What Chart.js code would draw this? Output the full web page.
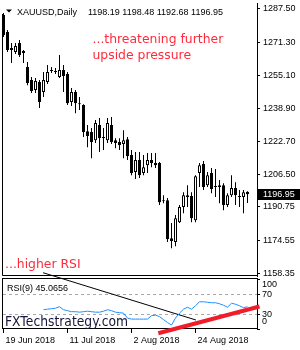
<!DOCTYPE html>
<html>
<head>
<meta charset="utf-8">
<script src="https://cdn.jsdelivr.net/npm/chart.js@4.4.1/dist/chart.umd.min.js"></script>
<style>
  html, body { margin: 0; padding: 0; background: #fff; }
  #wrap { position: relative; width: 300px; height: 350px; }
  #wrap canvas { position: absolute; left: 0; top: 0; }
</style>
</head>
<body>
<div id="wrap">
  <canvas id="price_graph" width="300" height="350"></canvas>
  <canvas id="rsi_graph" width="300" height="350"></canvas>
</div>
<script>
// XAUUSD daily, 19 Jun - 12 Sep 2018
const dates = [
  '19 Jun 2018', '20 Jun 2018', '21 Jun 2018', '22 Jun 2018', '25 Jun 2018', '26 Jun 2018', '27 Jun 2018',
  '28 Jun 2018', '29 Jun 2018', '2 Jul 2018', '3 Jul 2018', '4 Jul 2018', '5 Jul 2018', '6 Jul 2018',
  '9 Jul 2018', '10 Jul 2018', '11 Jul 2018', '12 Jul 2018', '13 Jul 2018', '16 Jul 2018', '17 Jul 2018',
  '18 Jul 2018', '19 Jul 2018', '20 Jul 2018', '23 Jul 2018', '24 Jul 2018', '25 Jul 2018', '26 Jul 2018',
  '27 Jul 2018', '30 Jul 2018', '31 Jul 2018', '1 Aug 2018', '2 Aug 2018', '3 Aug 2018', '6 Aug 2018',
  '7 Aug 2018', '8 Aug 2018', '9 Aug 2018', '10 Aug 2018', '13 Aug 2018', '14 Aug 2018', '15 Aug 2018',
  '16 Aug 2018', '17 Aug 2018', '20 Aug 2018', '21 Aug 2018', '22 Aug 2018', '23 Aug 2018', '24 Aug 2018',
  '27 Aug 2018', '28 Aug 2018', '29 Aug 2018', '30 Aug 2018', '31 Aug 2018', '3 Sep 2018', '4 Sep 2018',
  '5 Sep 2018', '6 Sep 2018', '7 Sep 2018', '10 Sep 2018', '11 Sep 2018', '12 Sep 2018'
];

const open = [
  1284.6, 1276.3, 1268.4, 1266.5, 1270.9, 1267.0, 1259.1, 1252.8, 1247.9, 1251.8,
  1246.9, 1251.8, 1257.7, 1257.2, 1254.3, 1257.7, 1255.7, 1242.0, 1246.9, 1241.5,
  1240.6, 1227.8, 1227.4, 1223.4, 1230.8, 1224.9, 1223.4, 1230.8, 1223.4, 1222.5,
  1221.5, 1223.9, 1216.1, 1207.8, 1213.7, 1207.3, 1211.2, 1213.7, 1212.2, 1212.2,
  1194.1, 1194.1, 1175.5, 1173.6, 1183.3, 1190.7, 1196.5, 1196.1, 1184.3, 1207.3,
  1211.7, 1201.4, 1207.3, 1201.0, 1200.5, 1201.4, 1191.7, 1196.5, 1200.0, 1196.1,
  1195.6, 1198.19
];
const high = [
  1285.5, 1277.2, 1270.9, 1270.9, 1272.3, 1267.5, 1261.6, 1254.3, 1253.8, 1252.8,
  1256.7, 1260.1, 1259.1, 1258.7, 1265.0, 1260.1, 1256.7, 1248.9, 1247.9, 1244.5,
  1241.0, 1230.8, 1229.3, 1233.2, 1234.2, 1229.3, 1234.2, 1234.7, 1224.4, 1224.4,
  1228.3, 1224.9, 1218.6, 1217.6, 1217.6, 1216.1, 1217.1, 1217.1, 1217.1, 1212.7,
  1196.5, 1195.1, 1182.9, 1186.8, 1191.7, 1198.0, 1201.4, 1198.0, 1206.3, 1212.2,
  1213.2, 1207.8, 1209.8, 1209.3, 1203.9, 1202.4, 1197.5, 1206.3, 1202.9, 1199.0,
  1199.0, 1198.48
];
const low = [
  1273.8, 1266.5, 1261.1, 1265.5, 1264.0, 1261.1, 1250.3, 1246.4, 1246.4, 1239.1,
  1244.5, 1250.8, 1256.2, 1255.7, 1253.8, 1246.9, 1240.6, 1240.1, 1236.6, 1238.1,
  1224.9, 1220.0, 1214.6, 1222.0, 1217.6, 1218.6, 1222.0, 1221.5, 1219.5, 1218.6,
  1214.6, 1213.7, 1206.3, 1204.4, 1204.9, 1206.3, 1207.3, 1210.2, 1209.8, 1191.7,
  1192.6, 1173.6, 1170.6, 1171.6, 1182.9, 1187.7, 1190.7, 1183.3, 1183.3, 1200.5,
  1199.0, 1200.5, 1197.5, 1195.6, 1192.6, 1189.2, 1190.7, 1195.6, 1191.7, 1190.7,
  1187.7, 1192.68
];
const close = [
  1274.8, 1267.5, 1267.5, 1269.4, 1265.0, 1266.0, 1251.3, 1247.4, 1252.3, 1242.0,
  1252.8, 1256.7, 1257.2, 1256.7, 1257.7, 1254.7, 1241.5, 1246.9, 1241.5, 1241.0,
  1227.4, 1225.4, 1222.5, 1231.8, 1224.4, 1224.4, 1231.8, 1222.5, 1222.0, 1221.0,
  1223.4, 1215.6, 1207.3, 1213.7, 1206.3, 1210.2, 1213.7, 1212.2, 1211.2, 1193.1,
  1193.6, 1175.0, 1174.1, 1185.3, 1190.7, 1196.5, 1195.6, 1185.3, 1205.8, 1211.2,
  1200.5, 1206.3, 1199.5, 1200.5, 1201.4, 1191.7, 1196.5, 1200.0, 1196.5, 1195.6,
  1198.0, 1196.95
];

// RSI(9); the first bars are not visible in the picture
const rsi = [
  null, null, null, null, null, null, null, null, null, null,
  39, 40, 41, 42, 45, 39, 37, 35, 35, 34,
  35, 36, 35, 34, 34, 36, 39, 37, 34, 33,
  32, 22, 20, 20, 20, 20, 20, 27, 28, 25,
  19, 13, 8, 22, 32, 40, 44, 40, 47, 55,
  55, 54, 53, 53, 51, 48, 44, 52, 50, 47,
  43, 45.0656
];

// trend lines drawn on the RSI window: [bar, rsi value]
const rsiResistance = [[9.9, 113.7], [48.1, 18.2]];
const rsiSupport = [[38.7, -8.7], [64, 45.5]];

const priceTicks = [1287.50, 1271.30, 1255.10, 1238.90, 1222.70, 1206.50, 1190.75, 1174.55, 1158.35];
const rsiTicks = [100, 70, 30, 0];
const dateTicks = [0, 16, 32, 48];

const symbol = 'XAUUSD,Daily';
const rsiPeriod = 9;
const notes = ['...threatening further', 'upside pressure', '...higher RSI'];
const watermark = 'FXTechstrategy.com';

const last = close.length - 1;
const xMin = -0.125, xMax = 63.375;
const axisFont = {family: "'Liberation Sans', Arial, sans-serif", size: 9};

Chart.defaults.font.family = axisFont.family;
Chart.defaults.font.size = 9;
Chart.defaults.color = '#000';

function fixWidth(s) { s.width = 43; s.paddingTop = 0; s.paddingBottom = 0; }

let price_graph = new Chart(document.getElementById('price_graph'), {
  type: 'bar',
  data: {
    datasets: [{
      // bodies
      data: dates.map((d, i) => ({x: i, y: [open[i], close[i]]})),
      backgroundColor: close.map((c, i) => c >= open[i] ? '#ffffff' : '#000000'),
      borderColor: '#000',
      borderWidth: 1,
      borderSkipped: false,
      barThickness: 3,
      minBarLength: 1,
      inflateAmount: 0,
      grouped: false
    }, {
      // wicks
      data: dates.map((d, i) => ({x: i, y: [low[i], high[i]]})),
      backgroundColor: '#000',
      borderWidth: 0,
      barThickness: 1,
      inflateAmount: 0,
      grouped: false
    }]
  },
  options: {
    animation: false,
    responsive: false,
    events: [],
    layout: {padding: {top: 3, left: 3, right: 0, bottom: 74}},
    plugins: {legend: {display: false}, tooltip: {enabled: false}},
    scales: {
      x: {type: 'linear', display: false, offset: false, min: xMin, max: xMax},
      y: {
        position: 'right',
        min: 1157.03,
        max: 1290.43,
        afterBuildTicks: (s) => { s.ticks = priceTicks.map(v => ({value: v})); },
        afterFit: fixWidth,
        grid: {drawOnChartArea: false, tickLength: 3, color: '#000'},
        border: {color: '#000'},
        ticks: {font: axisFont, color: '#000', padding: 3, callback: (v) => v.toFixed(2)}
      }
    }
  },
  plugins: [{
    id: 'frame',
    beforeDatasetsDraw(chart) {
      const ctx = chart.ctx, a = chart.chartArea;
      ctx.save();
      ctx.strokeStyle = '#000';
      ctx.lineWidth = 1;
      ctx.beginPath();
      ctx.moveTo(a.left - 0.5, 14);
      ctx.lineTo(a.left - 0.5, a.bottom - 0.5);
      ctx.lineTo(a.right + 1, a.bottom - 0.5);
      ctx.stroke();
      ctx.restore();
    },
    afterDraw(chart) {
      const ctx = chart.ctx, yS = chart.scales.y;
      ctx.save();
      // header
      ctx.fillStyle = '#000';
      ctx.beginPath();
      ctx.moveTo(6, 9.5); ctx.lineTo(12, 9.5); ctx.lineTo(9, 12.5); ctx.closePath();
      ctx.fill();
      ctx.font = "9px 'Liberation Sans', Arial, sans-serif";
      ctx.textBaseline = 'alphabetic';
      ctx.fillText(symbol, 17, 14.5);
      ctx.fillText([open, high, low, close].map(s => s[last].toFixed(2)).join(' '), 88, 14.5);
      // notes
      ctx.fillStyle = '#ff2a3c';
      ctx.font = "12.4px 'DejaVu Sans', sans-serif";
      ctx.fillText(notes[0], 92.5, 42.5);
      ctx.fillText(notes[1], 92.5, 59);
      ctx.fillText(notes[2], 5, 268);
      // last price label
      const py = yS.getPixelForValue(close[last]);
      ctx.fillStyle = '#000';
      ctx.fillRect(258, Math.round(py) - 5, 42, 11);
      ctx.fillStyle = '#fff';
      ctx.font = "9px 'Liberation Sans', Arial, sans-serif";
      ctx.textBaseline = 'middle';
      ctx.fillText(close[last].toFixed(2), 263, py);
      ctx.restore();
    }
  }]
});

let rsi_graph = new Chart(document.getElementById('rsi_graph'), {
  type: 'line',
  data: {
    datasets: [{
      data: rsiSupport.map(p => ({x: p[0], y: p[1]})),
      borderColor: '#f01c2a',
      borderWidth: 4,
      pointRadius: 0,
      clip: false
    }, {
      data: rsi.map((v, i) => ({x: i, y: v})),
      borderColor: '#1e90ff',
      borderWidth: 1,
      pointRadius: 0,
      spanGaps: false
    }, {
      data: rsiResistance.map(p => ({x: p[0], y: p[1]})),
      borderColor: '#000',
      borderWidth: 1,
      pointRadius: 0,
      clip: false
    }]
  },
  options: {
    animation: false,
    responsive: false,
    events: [],
    layout: {padding: {top: 279.5, left: 3, right: 0, bottom: 0}},
    plugins: {legend: {display: false}, tooltip: {enabled: false}},
    scales: {
      x: {
        type: 'linear',
        offset: false,
        min: xMin,
        max: xMax,
        afterBuildTicks: (s) => { s.ticks = dateTicks.map(v => ({value: v})); },
        afterFit: (s) => { s.height = 21; s.paddingLeft = 0; s.paddingRight = 0; },
        grid: {drawOnChartArea: false, tickLength: 4, color: '#000'},
        border: {display: false},
        ticks: {
          font: axisFont, color: '#000', align: 'start', labelOffset: 2, padding: 2,
          maxRotation: 0, autoSkip: false, callback: (v) => dates[v]
        }
      },
      y: {
        position: 'right',
        min: 0,
        max: 100,
        afterBuildTicks: (s) => { s.ticks = rsiTicks.map(v => ({value: v})); },
        afterFit: fixWidth,
        grid: {
          color: (c) => (c.tick.value === 70 || c.tick.value === 30) ? '#a8a8a8' : 'rgba(0,0,0,0)',
          tickColor: '#000',
          tickLength: 3
        },
        border: {color: '#000', dash: [3, 3]},
        ticks: {display: false}
      }
    }
  },
  plugins: [{
    id: 'rsiframe',
    beforeDatasetsDraw(chart) {
      const ctx = chart.ctx, a = chart.chartArea;
      ctx.save();
      ctx.strokeStyle = '#000';
      ctx.lineWidth = 1;
      ctx.strokeRect(a.left - 0.5, Math.floor(a.top) - 0.5, a.right - a.left + 1, 50);
      ctx.restore();
    },
    afterDraw(chart) {
      const ctx = chart.ctx, a = chart.chartArea, yS = chart.scales.y;
      ctx.save();
      ctx.fillStyle = '#000';
      ctx.font = "9px 'Liberation Sans', Arial, sans-serif";
      ctx.textBaseline = 'middle';
      rsiTicks.forEach(v => {
        let y = yS.getPixelForValue(v);
        y = Math.min(Math.max(y, a.top + 5), a.bottom - 7);
        ctx.fillText(String(v), 262, y);
      });
      ctx.textBaseline = 'alphabetic';
      ctx.fillText('RSI(' + rsiPeriod + ') ' + rsi[last].toFixed(4), 7, 291);
      ctx.fillStyle = '#15153a';
      ctx.font = "13.5px 'DejaVu Sans', sans-serif";
      ctx.fillText(watermark, 5, 326, 123);
      ctx.restore();
    }
  }]
});
</script>
</body>
</html>
